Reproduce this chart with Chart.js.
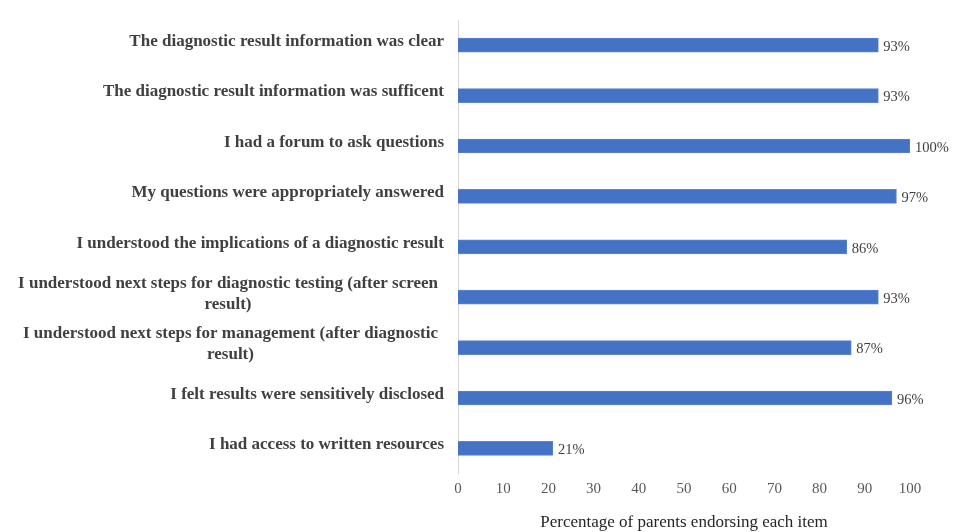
<!DOCTYPE html>
<html lang="en">
  <head>
    <meta charset="utf-8" />
    <title>Parent endorsement</title>
    <style>
      * {
        margin: 0;
        padding: 0;
      }
      body {
        background: white;
        overflow: hidden;
      }
      .chartBox {
        width: 954px;
        height: 533px;
      }
    </style>
  </head>
  <body>
    <div class="chartBox">
      <canvas id="myChart"></canvas>
    </div>

    <script src="https://cdn.jsdelivr.net/npm/chart.js"></script>

    <script>
      const items = [
        ["The diagnostic result information was clear"],
        ["The diagnostic result information was sufficent"],
        ["I had a forum to ask questions"],
        ["My questions were appropriately answered"],
        ["I understood the implications of a diagnostic result"],
        ["I understood next steps for diagnostic testing (after screen", "result)"],
        ["I understood next steps for management (after diagnostic", "result)"],
        ["I felt results were sensitively disclosed"],
        ["I had access to written resources"],
      ];
      const percents = [93, 93, 100, 97, 86, 93, 87, 96, 21];
      const xTicks = [0, 10, 20, 30, 40, 50, 60, 70, 80, 90, 100];

      const serif = "'Liberation Serif', 'Times New Roman', serif";

      // draws the wrapped item names (lines centred, block right-aligned) and the % labels
      const labelsPlugin = {
        id: "itemLabels",
        afterDraw(chart) {
          const { ctx, scales: { x, y } } = chart;
          ctx.save();

          ctx.font = "bold 17px " + serif;
          ctx.fillStyle = "#404040";
          ctx.textBaseline = "middle";
          ctx.textAlign = "center";
          items.forEach((lines, i) => {
            const right = y.right - (lines.length > 1 ? 20 : 14);
            const maxW = Math.max(...lines.map((l) => ctx.measureText(l).width));
            const cx = right - maxW / 2;
            const lh = 21;
            const cy = y.getPixelForTick(i) - 3.5;
            const y0 = cy - ((lines.length - 1) * lh) / 2;
            lines.forEach((l, j) => ctx.fillText(l, cx, y0 + j * lh));
          });

          ctx.font = "14.5px " + serif;
          ctx.fillStyle = "#404040";
          ctx.textAlign = "left";
          const meta = chart.getDatasetMeta(0);
          meta.data.forEach((bar, i) => {
            ctx.fillText(percents[i] + "%", bar.x + 5, bar.y + 2);
          });
          ctx.restore();
        },
      };

      const config = {
        type: "bar",
        data: {
          labels: items,
          datasets: [
            {
              data: percents,
              backgroundColor: "#4472C4",
              borderColor: "#5a85d0",
              borderWidth: 1,
              barThickness: 14,
            },
          ],
        },
        options: {
          indexAxis: "y",
          responsive: true,
          maintainAspectRatio: false,
          animation: false,
          layout: {
            padding: { left: 0, right: 44, top: 20, bottom: 0 },
          },
          plugins: {
            legend: { display: false },
            tooltip: { enabled: false },
          },
          scales: {
            x: {
              min: 0,
              max: 100,
              afterBuildTicks(scale) {
                scale.ticks = xTicks.map((v) => ({ value: v }));
              },
              grid: { display: false, drawTicks: false },
              border: { display: false },
              ticks: {
                padding: 6,
                color: "#595959",
                font: { family: serif, size: 15 },
              },
              title: {
                display: true,
                text: "Percentage of parents endorsing each item",
                color: "#262626",
                font: { family: serif, size: 17 },
                padding: { top: 9, bottom: 0 },
              },
            },
            y: {
              afterFit(scale) {
                scale.width = 458;
              },
              grid: { display: false, drawTicks: false },
              border: { display: true, color: "#d9d9d9", width: 1 },
              ticks: { display: false },
            },
          },
        },
        plugins: [labelsPlugin],
      };

      const myChart = new Chart(document.getElementById("myChart"), config);
    </script>
  </body>
</html>
